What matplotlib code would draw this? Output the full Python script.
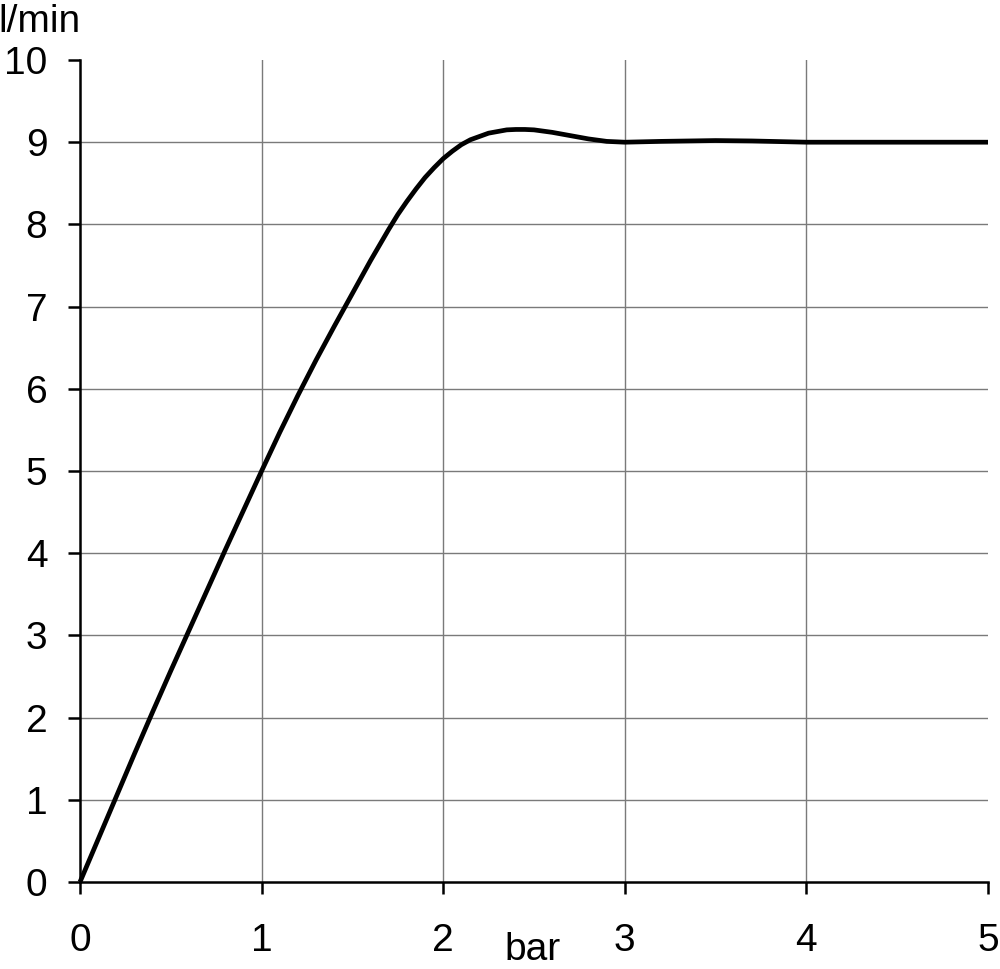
import numpy as np
import matplotlib
matplotlib.use('Agg')
from matplotlib import pyplot as plt

# flow vs pressure curve
pressure = [0.0, 0.1, 0.2, 0.3, 0.4, 0.5, 0.6, 0.7, 0.8, 0.9, 1.0, 1.1, 1.2, 1.3,
            1.4, 1.5, 1.6, 1.7, 1.75, 1.8, 1.85, 1.9, 1.95, 2.0, 2.05, 2.1,
            2.15, 2.2, 2.25, 2.3, 2.35, 2.4, 2.45, 2.5, 2.6, 2.7, 2.8, 2.9,
            3.0, 3.1, 3.2, 3.35, 3.5, 3.7, 3.9, 4.0, 4.5, 5.0]
flow = [0.0, 0.52, 1.04, 1.56, 2.07, 2.57, 3.06, 3.55, 4.04, 4.52, 5.0, 5.47,
        5.92, 6.35, 6.76, 7.16, 7.56, 7.94, 8.12, 8.28, 8.43, 8.57, 8.69,
        8.80, 8.89, 8.97, 9.03, 9.07, 9.11, 9.13, 9.15, 9.155, 9.155, 9.15,
        9.12, 9.08, 9.04, 9.01, 9.0, 9.005, 9.01, 9.015, 9.02, 9.015, 9.005,
        9.0, 9.0, 9.0]

xticks = [0, 1, 2, 3, 4, 5]
yticks = [0, 1, 2, 3, 4, 5, 6, 7, 8, 9, 10]

plt.rcParams['font.family'] = ['Liberation Sans', 'DejaVu Sans']

W, H = 1000, 969
fig = plt.figure(figsize=(W / 100., H / 100.), dpi=100)
ax = fig.add_axes([80 / W, 1 - 882 / H, 908 / W, 822 / H])

ax.set_xlim(0, 5)
ax.set_ylim(0, 10)

# grid: only interior lines
for xv in xticks[1:-1]:
    ax.axvline(xv, color='#7a7a7a', lw=1.0, zorder=1)
for yv in yticks[1:-1]:
    ax.axhline(yv, color='#7a7a7a', lw=1.0, zorder=1)

ax.plot(pressure, flow, color='black', lw=3.4, solid_capstyle='butt',
        solid_joinstyle='round', zorder=3, clip_on=False)

for side in ['top', 'right']:
    ax.spines[side].set_visible(False)
for side in ['left', 'bottom']:
    ax.spines[side].set_linewidth(1.8)
    ax.spines[side].set_color('black')
    ax.spines[side].set_zorder(4)

ax.set_xticks(xticks)
ax.set_yticks(yticks)
ax.tick_params(axis='both', direction='out', length=8.5, width=1.8,
               labelsize=28, colors='black')
ax.tick_params(axis='x', pad=21)
ax.tick_params(axis='y', pad=15)

fig.text(-2 / W, 1 - 32 / H, 'l/min', fontsize=28, ha='left', va='baseline')
fig.text(533 / W, 1 - 960 / H, 'bar', fontsize=28, ha='center', va='baseline')

fig.savefig('out.png', dpi=100)
